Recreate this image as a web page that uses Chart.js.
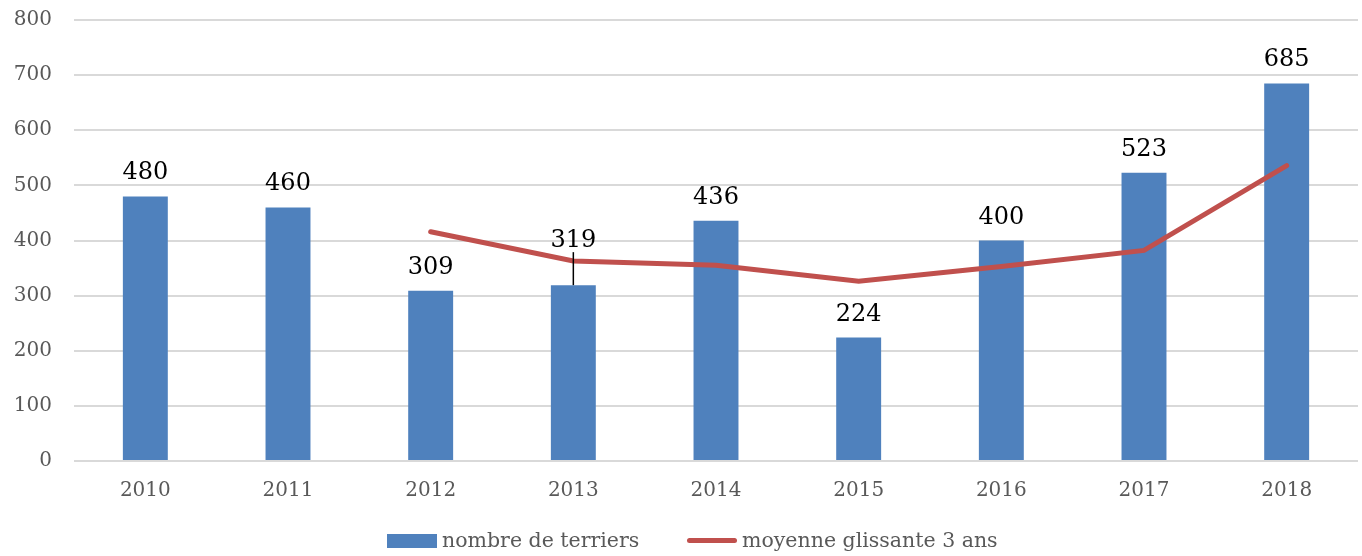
<!DOCTYPE html>
<html>
<head>
<meta charset="utf-8">
<script src="https://cdn.jsdelivr.net/npm/chart.js@4.4.0/dist/chart.umd.min.js"></script>
<style>
  html, body { margin: 0; padding: 0; background: #fff; overflow: hidden; }
  #wrap { position: relative; width: 1362px; height: 556px; overflow: hidden; }
  #c { position: absolute; left: 0; top: -14px; }
  #legend { position: absolute; left: 0; top: 527px; width: 1362px; height: 28px;
            font-family: "DejaVu Serif", serif; font-size: 20.5px; color: #595959; }
  .item { position: absolute; top: 0; line-height: 26px; white-space: nowrap; }
  .swatch { position: absolute; }
</style>
</head>
<body>
<div id="wrap">
  <canvas id="c" width="1362" height="570"></canvas>
  <div id="legend">
    <div class="swatch" style="left:387px; top:7px; width:50px; height:14px; background:#4F81BD;"></div>
    <div class="item" style="left:442px;">nombre de terriers</div>
    <div class="swatch" style="left:687px; top:11px; width:50px; height:5px; border-radius:3px; background:#C0504D;"></div>
    <div class="item" style="left:742px;">moyenne glissante 3 ans</div>
  </div>
</div>
<script>
const categories = ["2010","2011","2012","2013","2014","2015","2016","2017","2018"];
const terriers = [480, 460, 309, 319, 436, 224, 400, 523, 685];
const moyenne = [null, null, 416, 363, 355, 326, 353, 382, 536];
const yTicks = [0, 100, 200, 300, 400, 500, 600, 700, 800];
const labelOffsets = [0, 0, 0, 21, 0, 0, 0, 0, 0];

const labelPlugin = {
  id: 'barLabels',
  afterDatasetsDraw(chart) {
    const ctx = chart.ctx;
    const meta = chart.getDatasetMeta(0);
    ctx.save();
    ctx.font = '24px "DejaVu Serif", serif';
    ctx.fillStyle = '#000';
    ctx.textAlign = 'center';
    ctx.textBaseline = 'alphabetic';
    meta.data.forEach((bar, i) => {
      const off = labelOffsets[i];
      const y = bar.y - 17 - off;
      if (off > 0) {
        ctx.strokeStyle = '#000';
        ctx.lineWidth = 1.5;
        ctx.beginPath();
        ctx.moveTo(bar.x, bar.y);
        ctx.lineTo(bar.x, y + 5);
        ctx.stroke();
      }
      ctx.fillText(String(terriers[i]), bar.x, y);
    });
    ctx.restore();
  }
};

new Chart(document.getElementById('c'), {
  data: {
    labels: categories,
    datasets: [
      {
        type: 'bar',
        label: 'nombre de terriers',
        data: terriers,
        backgroundColor: '#4F81BD',
        borderWidth: 0,
        categoryPercentage: 1,
        barPercentage: 0.315,
        order: 2
      },
      {
        type: 'line',
        label: 'moyenne glissante 3 ans',
        data: moyenne,
        borderColor: '#C0504D',
        borderWidth: 5,
        pointRadius: 0,
        tension: 0,
        fill: false,
        borderCapStyle: 'round',
        order: 1
      }
    ]
  },
  options: {
    responsive: false,
    animation: false,
    layout: { padding: { left: 0, right: 4, top: 8, bottom: 35 } },
    plugins: {
      legend: { display: false },
      tooltip: { enabled: false }
    },
    scales: {
      x: {
        grid: { display: false, drawTicks: false },
        border: { display: false },
        ticks: { color: '#595959', font: { family: '"DejaVu Serif", serif', size: 20 }, padding: 18 }
      },
      y: {
        min: 0, max: 800,
        afterBuildTicks(axis) { axis.ticks = yTicks.map(v => ({ value: v })); },
        afterFit(axis) { axis.width = 74; },
        grid: { color: '#D9D9D9', lineWidth: 2, drawTicks: false },
        border: { display: false },
        ticks: { color: '#595959', font: { family: '"DejaVu Serif", serif', size: 20 }, padding: 22 }
      }
    }
  },
  plugins: [labelPlugin]
});
</script>
</body>
</html>
